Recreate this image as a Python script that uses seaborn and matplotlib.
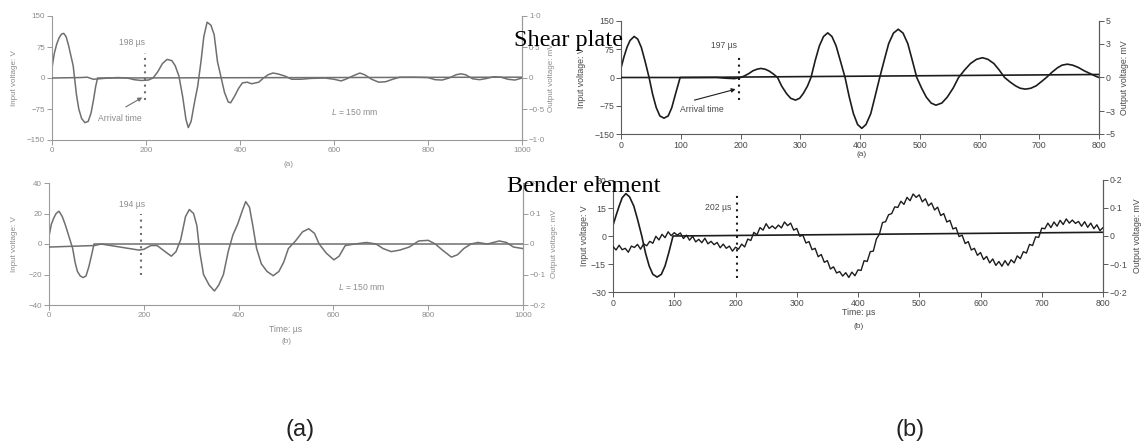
import numpy as np
import matplotlib
matplotlib.use("Agg")
import matplotlib.pyplot as plt
import seaborn as sns

# ---------------- data (time in µs) ----------------
# Shear plate, panel (a): input (V) and output (mV)
sp_a_in_t = [0, 5, 10, 15, 20, 25, 30, 35, 40, 45, 48, 52, 57, 63, 70, 77, 83, 88, 93, 97, 1000]
sp_a_in_v = [25, 60, 82, 97, 106, 108, 100, 80, 55, 30, 0, -40, -75, -98, -108, -105, -85, -55, -20, 0, 2]
sp_a_out_t = [0, 60, 75, 88, 100, 120, 140, 160, 175, 190, 205, 215, 225, 235, 245, 255, 262, 270, 278, 285,
              290, 296, 303, 310, 317, 323, 330, 338, 345, 352, 360, 367, 375, 380, 388, 397, 405, 415, 425, 440,
              450, 460, 470, 480, 495, 510, 530, 550, 580, 600, 615, 625, 640, 655, 665, 680, 695, 710, 725, 740,
              770, 800, 815, 830, 845, 860, 870, 880, 895, 910, 925, 940, 955, 970, 985, 1000]
sp_a_out_mv = [0, 0.007, 0.013, -0.02, -0.013, 0, 0.007, 0, -0.027, -0.04, -0.033, 0, 0.1, 0.233, 0.3, 0.28,
               0.2, 0.033, -0.3, -0.667, -0.8, -0.7, -0.4, -0.133, 0.267, 0.667, 0.9, 0.853, 0.7, 0.267, 0,
               -0.233, -0.387, -0.4, -0.3, -0.167, -0.08, -0.067, -0.093, -0.067, 0, 0.053, 0.08, 0.067, 0.033,
               -0.02, -0.02, -0.007, 0, -0.02, -0.047, -0.02, 0.033, 0.08, 0.053, -0.02, -0.067, -0.06, -0.02,
               0.013, 0.013, 0.007, -0.027, -0.033, 0, 0.053, 0.067, 0.053, -0.013, -0.027, -0.007, 0.02, 0.013,
               -0.02, -0.033, 0]

# Bender element, panel (a)
be_a_in_t = [0, 5, 10, 15, 21, 28, 35, 42, 50, 55, 60, 66, 72, 78, 84, 90, 95, 1000]
be_a_in_v = [5, 13, 17, 20, 21.5, 18, 12, 5, -3, -12, -18, -21, -22, -21, -15, -7, 0, 0]
be_a_out_t = [0, 96, 110, 150, 190, 200, 215, 228, 245, 258, 268, 278, 288, 296, 305, 312, 318, 326, 338, 349,
              358, 368, 378, 388, 398, 408, 415, 423, 430, 438, 448, 460, 473, 485, 495, 505, 520, 535, 548, 560,
              570, 585, 601, 612, 625, 645, 670, 690, 705, 722, 740, 760, 780, 800, 815, 830, 849, 862, 875, 890,
              905, 925, 950, 965, 980, 1000]
be_a_out_mv = [-0.01, -0.005, 0, -0.01, -0.02, -0.0175, -0.005, -0.005, -0.025, -0.04, -0.025, 0.015, 0.09,
               0.113, 0.1, 0.06, -0.025, -0.1, -0.135, -0.154, -0.135, -0.1, -0.025, 0.03, 0.065, 0.11, 0.139,
               0.12, 0.06, -0.015, -0.065, -0.09, -0.104, -0.09, -0.06, -0.015, 0.01, 0.04, 0.05, 0.035, 0,
               -0.03, -0.052, -0.04, -0.005, 0, 0.005, 0, -0.015, -0.025, -0.02, -0.01, 0.01, 0.012, 0, -0.02,
               -0.043, -0.035, -0.015, 0, 0.005, 0, 0.01, 0.005, -0.01, -0.015]

# Shear plate, panel (b)
sp_b_in_t = [0, 5, 10, 15, 22, 28, 34, 40, 47, 53, 59, 65, 72, 79, 85, 91, 99, 800]
sp_b_in_v = [25, 55, 80, 98, 109, 102, 80, 45, 0, -45, -80, -102, -108, -102, -80, -45, 0, 8]
sp_b_out_t = [0, 160, 175, 190, 200, 207, 214, 221, 228, 234, 241, 248, 255, 262, 269, 277, 284, 292, 299, 305,
              312, 318, 325, 332, 339, 346, 353, 360, 367, 375, 382, 389, 396, 403, 410, 418, 425, 433, 441, 448,
              456, 464, 472, 480, 487, 495, 503, 511, 519, 527, 537, 546, 556, 565, 575, 585, 595, 605, 614, 624,
              633, 642, 651, 660, 668, 677, 686, 695, 703, 712, 721, 730, 738, 747, 756, 765, 775, 785, 795, 800]
sp_b_out_mv = [0, 0, -0.06, -0.1, 0.0, 0.15, 0.35, 0.6, 0.74, 0.8, 0.74, 0.57, 0.31, 0, -0.77, -1.42, -1.84,
               -2.0, -1.84, -1.42, -0.77, 0, 1.5, 2.8, 3.63, 3.95, 3.63, 2.8, 1.5, 0, -1.72, -3.2, -4.16, -4.5,
               -4.16, -3.2, -1.72, 0, 1.62, 3.0, 3.93, 4.27, 3.93, 3.0, 1.62, 0, -0.93, -1.74, -2.26, -2.45,
               -2.26, -1.74, -0.93, 0, 0.66, 1.24, 1.61, 1.75, 1.61, 1.24, 0.66, 0, -0.39, -0.73, -0.95, -1.03,
               -0.95, -0.73, -0.39, 0, 0.45, 0.84, 1.09, 1.18, 1.09, 0.9, 0.6, 0.35, 0.1, 0.0]

# Bender element, panel (b) (noisy received signal, read every 5 µs)
be_b_in_t = [0, 5, 10, 15, 21, 27, 34, 40, 47, 53, 59, 65, 72, 79, 85, 91, 98, 800]
be_b_in_v = [5.7, 11, 16, 20.5, 22.7, 21, 16, 9, 0, -9, -16, -20.5, -22, -20.5, -16, -9, 0, 2]
be_b_out_t = list(range(0, 801, 5))
be_b_out_mv = [-0.038, -0.050, -0.033, -0.049, -0.044, -0.058, -0.036, -0.041, -0.030, -0.047,
               -0.028, -0.035, -0.019, -0.026, -0.001, -0.014, 0.006, -0.006, 0.015, 0.001,
               0.012, 0.003, 0.011, -0.009, 0.003, -0.015, -0.001, -0.021, -0.012, -0.024,
               -0.008, -0.028, -0.019, -0.031, -0.023, -0.042, -0.029, -0.044, -0.036, -0.054,
               -0.040, -0.047, -0.029, -0.039, -0.011, -0.016, 0.013, 0.004, 0.030, 0.021,
               0.044, 0.027, 0.036, 0.026, 0.039, 0.029, 0.050, 0.037, 0.046, 0.021,
               0.027, -0.001, 0.003, -0.025, -0.020, -0.049, -0.044, -0.074, -0.066, -0.094,
               -0.088, -0.118, -0.110, -0.132, -0.127, -0.143, -0.131, -0.148, -0.129, -0.142,
               -0.121, -0.123, -0.088, -0.091, -0.056, -0.054, -0.011, 0.007, 0.048, 0.051,
               0.076, 0.080, 0.104, 0.102, 0.124, 0.113, 0.138, 0.126, 0.150, 0.138,
               0.147, 0.122, 0.133, 0.108, 0.118, 0.093, 0.103, 0.073, 0.080, 0.050,
               0.056, 0.025, 0.030, -0.002, 0.003, -0.027, -0.020, -0.050, -0.044, -0.069,
               -0.059, -0.084, -0.073, -0.096, -0.082, -0.105, -0.091, -0.108, -0.088, -0.105,
               -0.085, -0.096, -0.071, -0.081, -0.056, -0.061, -0.030, -0.034, -0.003, -0.005,
               0.028, 0.026, 0.046, 0.030, 0.050, 0.035, 0.056, 0.041, 0.061, 0.046,
               0.057, 0.045, 0.052, 0.035, 0.051, 0.031, 0.046, 0.026, 0.040, 0.019, 0.030]

# annotations
arrival = [198, 194, 197, 202]
arrival_labels = ["198 µs", "194 µs", "197 µs", "202 µs"]

# ---------------- style ----------------
sns.set_style("ticks")
plt.rcParams["font.family"] = ["Liberation Sans", "DejaVu Sans"]
plt.rcParams["mathtext.fontset"] = "custom"
plt.rcParams["mathtext.it"] = "Liberation Sans:italic"
plt.rcParams["mathtext.rm"] = "Liberation Sans"

W, H = 1146, 442
fig = plt.figure(figsize=(W / 100, H / 100), dpi=100)
fig.patch.set_facecolor("white")


def px_axes(x0, x1, y0, y1):
    return fig.add_axes([x0 / W, 1 - y1 / H, (x1 - x0) / W, (y1 - y0) / H])


GRAY_LINE = "#6f6f6f"
GRAY_TXT = "#8c8c8c"
GRAY_SP = "#9a9a9a"
DARK_LINE = "#1c1c1c"
DARK_TXT = "#4a4a4a"
DARK_SP = "#5a5a5a"


def style(ax, ax2, xlim, xticks, ylim, yticks, ylabels, y2ticks, y2labels, fs, tc, sc, lpos, rpos):
    ax.set_xlim(*xlim)
    ax.set_ylim(*ylim)
    ax.set_xticks(xticks)
    ax.set_xticklabels([str(v) for v in xticks])
    ax.set_yticks(yticks)
    ax.set_yticklabels(ylabels)
    ax2.set_yticks(y2ticks)
    ax2.set_yticklabels(y2labels)
    for a in (ax, ax2):
        a.spines["top"].set_visible(False)
        for s in a.spines.values():
            s.set_color(sc)
            s.set_linewidth(0.8)
        a.tick_params(direction="out", length=3.5, width=0.7, colors=sc, labelcolor=tc,
                      labelsize=fs, pad=1.5)
        a.set_facecolor("none")
    ax2.spines["left"].set_visible(False)
    ax2.spines["bottom"].set_visible(False)
    ax.set_ylabel("Input voltage: V", fontsize=fs, color=tc)
    ax2.set_ylabel("Output voltage: mV", fontsize=fs, color=tc)
    ax.yaxis.set_label_coords(lpos, 0.5)
    ax2.yaxis.set_label_coords(rpos, 0.5)
    ax.set_xlabel("")


def arrow(ax, head, tail, color):
    ax.annotate("", xy=head, xytext=tail,
                arrowprops=dict(arrowstyle="-|>", color=color, lw=0.8, mutation_scale=6,
                                shrinkA=0, shrinkB=0))


# ---- TL: shear plate (a)
ax = px_axes(52, 522, 16, 140)
ax2 = ax.twinx()
sns.lineplot(x=sp_a_in_t, y=sp_a_in_v, ax=ax, color=GRAY_LINE, linewidth=1.1, sort=False)
sns.lineplot(x=sp_a_out_t, y=sp_a_out_mv, ax=ax2, color=GRAY_LINE, linewidth=1.1, sort=False)
ax2.set_ylim(-1.0, 1.0)
style(ax, ax2, (0, 1000), [0, 200, 400, 600, 800, 1000], (-150, 150), [-150, -75, 0, 75, 150],
      ["−150", "−75", "0", "75", "150"], [-1.0, -0.5, 0, 0.5, 1.0], ["−1·0", "−0·5", "0", "0·5", "1·0"],
      5.8, GRAY_TXT, GRAY_SP, -34 / 470, 1 + 26 / 470)
ax.plot([arrival[0]] * 2, [-53, 60], ls=(0, (1, 2.2)), color=GRAY_LINE, lw=1.5)
ax.text(170, 85, arrival_labels[0], ha="center", va="center", fontsize=6.2, color=GRAY_TXT)
ax.text(145, -97, "Arrival time", ha="center", va="center", fontsize=6.2, color=GRAY_TXT)
arrow(ax, (192, -47), (157, -70), GRAY_LINE)
ax.text(643, -82, "$L$ = 150 mm", ha="center", va="center", fontsize=6.2, color=GRAY_TXT)
ax.annotate("(a)", xy=(504, 0), xycoords=("data", "axes fraction"), xytext=(0, -18),
            textcoords="offset points", ha="center", va="center", fontsize=5.8, color=GRAY_TXT)

# ---- BL: bender element (a)
ax = px_axes(49, 523, 183, 305)
ax2 = ax.twinx()
sns.lineplot(x=be_a_in_t, y=be_a_in_v, ax=ax, color=GRAY_LINE, linewidth=1.1, sort=False)
sns.lineplot(x=be_a_out_t, y=be_a_out_mv, ax=ax2, color=GRAY_LINE, linewidth=1.1, sort=False)
ax2.set_ylim(-0.2, 0.2)
style(ax, ax2, (0, 1000), [0, 200, 400, 600, 800, 1000], (-40, 40), [-40, -20, 0, 20, 40],
      ["−40", "−20", "0", "20", "40"], [-0.2, -0.1, 0, 0.1, 0.2], ["−0·2", "−0·1", "0", "0·1", "0·2"],
      5.8, GRAY_TXT, GRAY_SP, -31 / 474, 1 + 28 / 474)
ax.plot([arrival[1]] * 2, [-20, 20], ls=(0, (1, 2.2)), color=GRAY_LINE, lw=1.5)
ax.text(176, 25.6, arrival_labels[1], ha="center", va="center", fontsize=6.2, color=GRAY_TXT)
ax.text(659, -28, "$L$ = 150 mm", ha="center", va="center", fontsize=6.2, color=GRAY_TXT)
ax.annotate("Time: µs", xy=(500, 0), xycoords=("data", "axes fraction"), xytext=(0, -17.3),
            textcoords="offset points", ha="center", va="center", fontsize=6.2, color=GRAY_TXT)
ax.annotate("(b)", xy=(500, 0), xycoords=("data", "axes fraction"), xytext=(0, -26.6),
            textcoords="offset points", ha="center", va="center", fontsize=5.8, color=GRAY_TXT)

# ---- TR: shear plate (b)
ax = px_axes(621, 1099, 21, 134)
ax2 = ax.twinx()
sns.lineplot(x=sp_b_in_t, y=sp_b_in_v, ax=ax, color=DARK_LINE, linewidth=1.2, sort=False)
sns.lineplot(x=sp_b_out_t, y=sp_b_out_mv, ax=ax2, color=DARK_LINE, linewidth=1.2, sort=False)
ax2.set_ylim(-5, 5)
style(ax, ax2, (0, 800), list(range(0, 801, 100)), (-150, 150), [-150, -75, 0, 75, 150],
      ["−150", "−75", "0", "75", "150"], [-5, -3, 0, 3, 5], ["−5", "−3", "0", "3", "5"],
      6.3, DARK_TXT, DARK_SP, -35 / 478, 1 + 21 / 478)
ax.plot([arrival[2]] * 2, [-60, 62], ls=(0, (1, 2.2)), color=DARK_LINE, lw=1.5)
ax.text(173, 86, arrival_labels[2], ha="center", va="center", fontsize=6.2, color=DARK_TXT)
ax.text(135, -84, "Arrival time", ha="center", va="center", fontsize=6.2, color=DARK_TXT)
arrow(ax, (192, -31), (123, -60), DARK_LINE)
ax.annotate("(a)", xy=(403, 0), xycoords=("data", "axes fraction"), xytext=(0, -15),
            textcoords="offset points", ha="center", va="center", fontsize=6.0, color=DARK_TXT)

# ---- BR: bender element (b)
ax = px_axes(613, 1103, 180, 292)
ax2 = ax.twinx()
sns.lineplot(x=be_b_in_t, y=be_b_in_v, ax=ax, color=DARK_LINE, linewidth=1.2, sort=False)
sns.lineplot(x=be_b_out_t, y=be_b_out_mv, ax=ax2, color=DARK_LINE, linewidth=1.0, sort=False)
ax2.set_ylim(-0.2, 0.2)
style(ax, ax2, (0, 800), list(range(0, 801, 100)), (-30, 30), [-30, -15, 0, 15, 30],
      ["−30", "−15", "0", "15", "30"], [-0.2, -0.1, 0, 0.1, 0.2], ["−0·2", "−0·1", "0", "0·1", "0·2"],
      6.3, DARK_TXT, DARK_SP, -24 / 490, 1 + 30 / 490)
ax.plot([arrival[3]] * 2, [-22.5, 23], ls=(0, (1, 2.2)), color=DARK_LINE, lw=1.5)
ax.text(172, 15, arrival_labels[3], ha="center", va="center", fontsize=6.2, color=DARK_TXT)
ax.annotate("Time: µs", xy=(401, 0), xycoords=("data", "axes fraction"), xytext=(0, -15),
            textcoords="offset points", ha="center", va="center", fontsize=6.3, color=DARK_TXT)
ax.annotate("(b)", xy=(401, 0), xycoords=("data", "axes fraction"), xytext=(0, -24.5),
            textcoords="offset points", ha="center", va="center", fontsize=6.0, color=DARK_TXT)

# ---- big labels
fig.text(568 / W, 1 - 46 / H, "Shear plate", ha="center", va="baseline", fontsize=17.5,
         family=["Liberation Serif", "DejaVu Serif"], color="black", zorder=10)
fig.text(584 / W, 1 - 192 / H, "Bender element", ha="center", va="baseline", fontsize=17.5,
         family=["Liberation Serif", "DejaVu Serif"], color="black", zorder=10)
fig.text(300 / W, 1 - 430 / H, "(a)", ha="center", va="center", fontsize=17, color="#222222")
fig.text(910 / W, 1 - 430 / H, "(b)", ha="center", va="center", fontsize=17, color="#222222")

fig.savefig("out.png", dpi=100, facecolor="white")
